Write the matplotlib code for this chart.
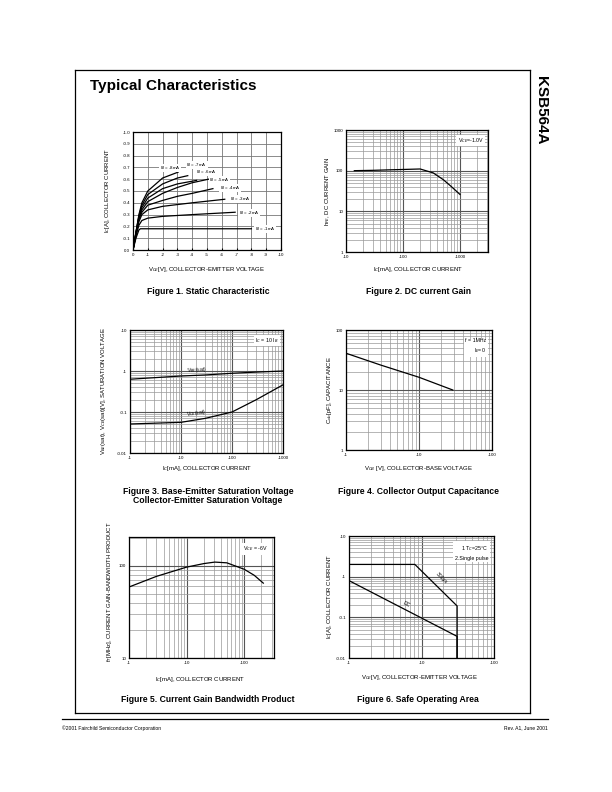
import numpy as np
import matplotlib
matplotlib.use("Agg")
import matplotlib.pyplot as plt
from matplotlib.ticker import FixedLocator, FixedFormatter, LogLocator, NullFormatter

plt.rcParams['font.family'] = ['Liberation Sans', 'DejaVu Sans']

# Figure 1: static characteristic, one curve per base current
ib_labels = ['-8mA', '-7mA', '-6mA', '-5mA', '-4mA', '-3mA', '-2mA', '-1mA']
vce_curves = [
    [0, 0.2, 0.4, 0.6, 1, 2, 3.05],
    [0, 0.2, 0.4, 0.6, 1, 2, 3, 3.7],
    [0, 0.2, 0.4, 0.6, 1, 2, 3, 4.3],
    [0, 0.2, 0.4, 0.6, 1, 2, 3, 4, 5.1],
    [0, 0.2, 0.4, 0.6, 1, 2, 3, 4, 5.4],
    [0, 0.2, 0.4, 0.6, 1, 2, 4, 6.2],
    [0, 0.2, 0.4, 0.6, 1, 2, 4, 6.9],
    [0, 0.2, 0.4, 0.5, 1, 8.0],
]
ic_curves = [
    [0, 0.15, 0.30, 0.40, 0.50, 0.61, 0.66],
    [0, 0.15, 0.29, 0.38, 0.47, 0.56, 0.61, 0.63],
    [0, 0.15, 0.28, 0.36, 0.44, 0.52, 0.56, 0.59],
    [0, 0.14, 0.27, 0.34, 0.41, 0.48, 0.53, 0.57, 0.60],
    [0, 0.14, 0.26, 0.32, 0.38, 0.42, 0.455, 0.48, 0.52],
    [0, 0.13, 0.24, 0.30, 0.34, 0.37, 0.40, 0.43],
    [0, 0.12, 0.21, 0.25, 0.27, 0.285, 0.30, 0.32],
    [0, 0.10, 0.17, 0.18, 0.18, 0.18],
]
ib_label_x = [2.5, 4.32, 4.93, 5.85, 6.55, 7.23, 7.84, 8.92]
ib_label_y = [0.695, 0.718, 0.662, 0.593, 0.525, 0.432, 0.314, 0.178]

# Figure 2: DC current gain
ic_hfe = [14, 30, 60, 100, 200, 340, 510, 700, 1000]
hfe = [100, 102, 105, 107, 110, 88, 60, 41, 26]

# Figure 3: saturation voltages
ic_sat = [1, 10, 30, 100, 300, 1000]
vbe_sat = [0.63, 0.755, 0.80, 0.88, 0.94, 1.0]
vce_sat = [0.051, 0.056, 0.07, 0.10, 0.20, 0.46]

# Figure 4: output capacitance
vcb = [1, 3, 10, 29]
cob = [41, 26, 16.3, 10]

# Figure 5: gain bandwidth product
ic_ft = [1, 3, 10, 20, 31, 50, 100, 150, 215]
ft = [59, 77, 97, 106, 110, 108, 92, 79, 65]

# Figure 6: safe operating area
soa_pulse_v = [1, 8.1, 31, 31]
soa_pulse_i = [2.0, 2.0, 0.19, 0.01]
soa_dc_v = [1, 31, 31]
soa_dc_i = [0.8, 0.034, 0.01]

W, H = 612, 792
fig = plt.figure(figsize=(W / 100, H / 100), dpi=100)


def px_axes(left, top, right, bottom):
    return fig.add_axes([left / W, 1 - bottom / H, (right - left) / W, (bottom - top) / H])


def ftext(x, y, s, **kw):
    fig.text(x / W, 1 - y / H, s, **kw)


def style(ax):
    for sp in ax.spines.values():
        sp.set_linewidth(0.9)
        sp.set_color('black')
    ax.tick_params(which='both', length=0, labelsize=3.2, pad=2)
    ax.set_axisbelow(True)


def log_grid(ax, xticks, xlabels, yticks, ylabels):
    ax.set_xscale('log')
    ax.set_yscale('log')
    ax.xaxis.set_major_locator(FixedLocator(xticks))
    ax.xaxis.set_major_formatter(FixedFormatter(xlabels))
    ax.yaxis.set_major_locator(FixedLocator(yticks))
    ax.yaxis.set_major_formatter(FixedFormatter(ylabels))
    ax.xaxis.set_minor_locator(LogLocator(base=10, subs=np.arange(2, 10)))
    ax.yaxis.set_minor_locator(LogLocator(base=10, subs=np.arange(2, 10)))
    ax.xaxis.set_minor_formatter(NullFormatter())
    ax.yaxis.set_minor_formatter(NullFormatter())
    ax.grid(which='major', color='#555555', lw=0.8)
    ax.grid(which='minor', color='#999999', lw=0.5)
    style(ax)


box = dict(facecolor='white', edgecolor='none', pad=1.0)
lab_kw = dict(fontsize=4.3, ha='center', va='center')

# ---- Figure 1
ax1 = px_axes(133, 132, 281, 250)
for v, i in zip(vce_curves, ic_curves):
    ax1.plot(v, i, color='black', lw=0.9)
for s, x, y in zip(ib_labels, ib_label_x, ib_label_y):
    ax1.text(x, y, r'I$_B$ = ' + s, fontsize=3.2, ha='center', va='center',
             bbox=dict(facecolor='white', edgecolor='none', pad=0.2))
ax1.set_xlim(0, 10)
ax1.set_ylim(0, 1.0)
ax1.set_xticks(np.arange(0, 11))
ax1.set_xticklabels(['0'] + ['-%d' % k for k in range(1, 11)])
ax1.set_yticks(np.arange(0, 1.01, 0.1))
ax1.set_yticklabels(['0.0'] + ['-%.1f' % k for k in np.arange(0.1, 1.01, 0.1)])
ax1.grid(color='#777777', lw=0.6)
style(ax1)
ax1.tick_params(axis='x', length=1.5, direction='in')
ftext(207, 270, r'V$_{CE}$[V], COLLECTOR-EMITTER VOLTAGE', **lab_kw)
ftext(107, 191, r'I$_C$[A], COLLECTOR CURRENT', rotation=90, **lab_kw)

# ---- Figure 2
ax2 = px_axes(346, 130, 488, 252)
ax2.plot(ic_hfe, hfe, color='black', lw=0.9)
ax2.set_xlim(10, 3100)
ax2.set_ylim(1, 1000)
log_grid(ax2, [10, 100, 1000], ['-10', '-100', '-1000'], [1, 10, 100, 1000], ['1', '10', '100', '1000'])
ax2.text(0.97, 0.95, r'V$_{CE}$=-1.0V', transform=ax2.transAxes, fontsize=3.8, ha='right', va='top', bbox=box)
ftext(418, 270, r'I$_C$[mA], COLLECTOR CURRENT', **lab_kw)
ftext(328, 191, r'h$_{FE}$, DC CURRENT GAIN', rotation=90, **lab_kw)

# ---- Figure 3
ax3 = px_axes(130, 330, 283, 453)
ax3.plot(ic_sat, vbe_sat, color='black', lw=0.9)
ax3.plot(ic_sat, vce_sat, color='black', lw=0.9)
ax3.set_xlim(1, 1000)
ax3.set_ylim(0.01, 10)
log_grid(ax3, [1, 10, 100, 1000], ['-1', '-10', '-100', '-1000'],
         [0.01, 0.1, 1, 10], ['-0.01', '-0.1', '-1', '-10'])
ax3.text(0.97, 0.95, r'I$_C$ = 10 I$_B$', transform=ax3.transAxes, fontsize=3.8, ha='right', va='top', bbox=box)
ax3.text(20, 0.80, r'V$_{BE}$(sat)', fontsize=3.6, ha='center', va='bottom', rotation=3)
ax3.text(20, 0.068, r'V$_{CE}$(sat)', fontsize=3.6, ha='center', va='bottom', rotation=8)
ftext(207, 469, r'I$_C$[mA], COLLECTOR CURRENT', **lab_kw)
ftext(103, 391, r'V$_{BE}$(sat), V$_{CE}$(sat)[V], SATURATION VOLTAGE', rotation=90, **lab_kw)

# ---- Figure 4
ax4 = px_axes(346, 330, 492, 450)
ax4.plot(vcb, cob, color='black', lw=0.9)
ax4.set_xlim(1, 100)
ax4.set_ylim(1, 100)
log_grid(ax4, [1, 10, 100], ['-1', '-10', '-100'], [1, 10, 100], ['1', '10', '100'])
ax4.text(0.96, 0.93, 'f = 1MHz\n' + r'I$_E$=0', transform=ax4.transAxes, fontsize=3.8, ha='right', va='top', bbox=box, linespacing=1.5)
ftext(418, 469, r'V$_{CB}$ [V], COLLECTOR-BASE VOLTAGE', **lab_kw)
ftext(330, 390, r'C$_{ob}$[pF], CAPACITANCE', rotation=90, **lab_kw)

# ---- Figure 5
ax5 = px_axes(129, 537, 274, 658)
ax5.plot(ic_ft, ft, color='black', lw=0.9)
ax5.set_xlim(1, 330)
ax5.set_ylim(10, 206)
log_grid(ax5, [1, 10, 100], ['-1', '-10', '-100'], [10, 100], ['10', '100'])
ax5.text(0.96, 0.94, r'V$_{CE}$ = -6V', transform=ax5.transAxes, fontsize=3.8, ha='right', va='top', bbox=box)
ftext(200, 679, r'I$_C$[mA], COLLECTOR CURRENT', **lab_kw)
ftext(110, 592, r'f$_T$[MHz], CURRENT GAIN-BANDWIDTH PRODUCT', rotation=90, **lab_kw)

# ---- Figure 6
ax6 = px_axes(349, 536, 494, 658)
ax6.plot(soa_pulse_v, soa_pulse_i, color='black', lw=0.9)
ax6.plot(soa_dc_v, soa_dc_i, color='black', lw=0.9)
ax6.set_xlim(1, 100)
ax6.set_ylim(0.01, 10)
log_grid(ax6, [1, 10, 100], ['-1', '-10', '-100'], [0.01, 0.1, 1, 10], ['-0.01', '-0.1', '-1', '-10'])
ax6.text(0.96, 0.93, '1.T$_C$=25°C\n2.Single pulse', transform=ax6.transAxes, fontsize=3.8, ha='right', va='top', bbox=box, linespacing=1.6)
ax6.text(6.3, 0.21, 'DC', fontsize=3.6, ha='center', va='center', rotation=-27)
ax6.text(19, 0.9, '300μs', fontsize=3.6, ha='center', va='center', rotation=-44)
ftext(420, 677, r'V$_{CE}$[V], COLLECTOR-EMITTER VOLTAGE', **lab_kw)
ftext(329, 597, r'I$_C$[A], COLLECTOR CURRENT', rotation=90, **lab_kw)

# ---- figure captions
cap = dict(fontsize=6.2, fontweight='bold', ha='center', va='center')
ftext(208, 291, 'Figure 1. Static Characteristic', **cap)
ftext(418, 291, 'Figure 2. DC current Gain', **cap)
ftext(208, 496, 'Figure 3. Base-Emitter Saturation Voltage\nCollector-Emitter Saturation Voltage', linespacing=1.0, **cap)
ftext(418, 491, 'Figure 4. Collector Output Capacitance', **cap)
ftext(208, 699, 'Figure 5. Current Gain Bandwidth Product', **cap)
ftext(418, 699, 'Figure 6. Safe Operating Area', **cap)

# ---- page furniture
ftext(90, 86, 'Typical Characteristics', fontsize=11, fontweight='bold', ha='left', va='center')
ftext(541, 110, 'KSB564A', fontsize=11, fontweight='bold', ha='center', va='center', rotation=-90)
frame = dict(color='black', lw=0.9, transform=fig.transFigure)
fig.add_artist(plt.Line2D([75 / W, 530 / W], [1 - 70 / H, 1 - 70 / H], **frame))
fig.add_artist(plt.Line2D([75 / W, 75 / W], [1 - 70 / H, 1 - 713 / H], **frame))
fig.add_artist(plt.Line2D([530 / W, 530 / W], [1 - 70 / H, 1 - 713 / H], **frame))
fig.add_artist(plt.Line2D([75 / W, 530 / W], [1 - 713 / H, 1 - 713 / H], **frame))
fig.add_artist(plt.Line2D([62 / W, 548 / W], [1 - 719 / H, 1 - 719 / H], **frame))
ftext(62, 728, '©2001 Fairchild Semiconductor Corporation', fontsize=3.6, ha='left', va='center')
ftext(548, 728, 'Rev. A1, June 2001', fontsize=3.6, ha='right', va='center')

fig.savefig('out.png', dpi=100)
